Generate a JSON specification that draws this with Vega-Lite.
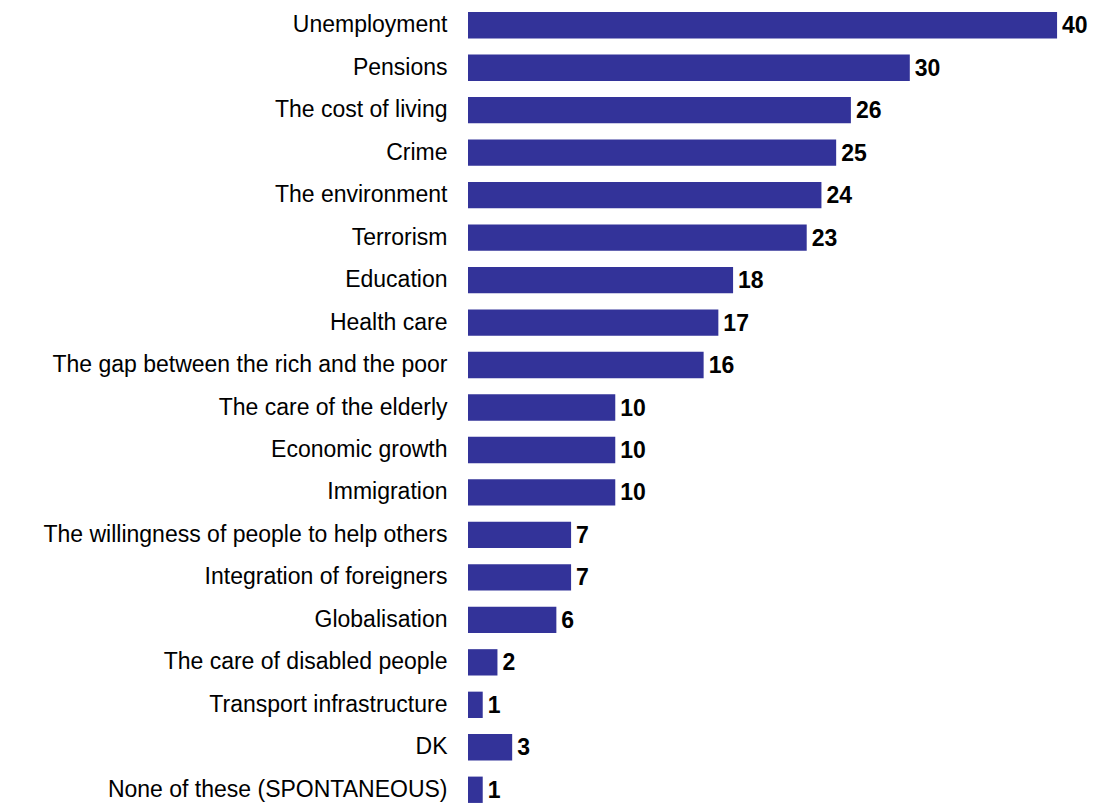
{
  "$schema": "https://vega.github.io/schema/vega-lite/v6.json",
  "autosize": {"type": "none"},
  "padding": {"left": 468, "top": 4, "right": 0, "bottom": 0},
  "width": 625,
  "height": 807,
  "background": "white",
  "config": {"view": {"stroke": null}, "font": "Liberation Sans"},
  "data": {"values": [
    {"item": "Unemployment", "value": 40},
    {"item": "Pensions", "value": 30},
    {"item": "The cost of living", "value": 26},
    {"item": "Crime", "value": 25},
    {"item": "The environment", "value": 24},
    {"item": "Terrorism", "value": 23},
    {"item": "Education", "value": 18},
    {"item": "Health care", "value": 17},
    {"item": "The gap between the rich and the poor", "value": 16},
    {"item": "The care of the elderly", "value": 10},
    {"item": "Economic growth", "value": 10},
    {"item": "Immigration", "value": 10},
    {"item": "The willingness of people to help others", "value": 7},
    {"item": "Integration of foreigners", "value": 7},
    {"item": "Globalisation", "value": 6},
    {"item": "The care of disabled people", "value": 2},
    {"item": "Transport infrastructure", "value": 1},
    {"item": "DK", "value": 3},
    {"item": "None of these (SPONTANEOUS)", "value": 1}
  ]},
  "encoding": {
    "y": {
      "field": "item", "type": "nominal", "sort": null,
      "scale": {"paddingInner": 0.38, "paddingOuter": 0.19},
      "axis": {"title": null, "domain": false, "ticks": false, "labelPadding": 21,
               "labelFontSize": 23, "labelColor": "#000000", "labelFont": "Liberation Sans", "labelLimit": 600}
    },
    "x": {
      "field": "value", "type": "quantitative",
      "scale": {"domain": [0, 42.44], "nice": false},
      "axis": null
    }
  },
  "layer": [
    {"mark": {"type": "bar", "color": "#333399"}},
    {"mark": {"type": "text", "align": "left", "baseline": "middle", "dx": 5, "dy": 1,
              "fontSize": 23, "fontWeight": "bold", "color": "#000000", "font": "Liberation Sans"},
     "encoding": {"text": {"field": "value", "type": "quantitative"}}}
  ]
}
